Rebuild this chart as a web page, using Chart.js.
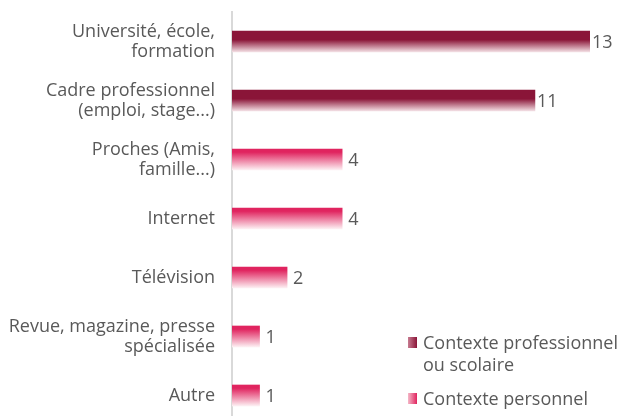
<!DOCTYPE html>
<html>
<head>
<meta charset="utf-8">
<script src="https://cdn.jsdelivr.net/npm/chart.js@4"></script>
<style>
  html, body { margin: 0; padding: 0; background: #fff; overflow: hidden; width: 627px; height: 416px; }
  #wrap { position: relative; width: 627px; height: 416px; overflow: hidden; }
  canvas { position: absolute; left: 0; top: 0; }
  .lg { position: absolute; font-family: "Open Sans", sans-serif; font-size: 18px; color: #595959; line-height: 22px; white-space: nowrap; }
  .mk { position: absolute; width: 9px; height: 11px; }
</style>
</head>
<body>
<div id="wrap">
  <canvas id="c" width="627" height="430"></canvas>
  <div class="mk" id="mk0" style="left:408px; top:337px;"></div>
  <div class="lg" id="lg0" style="left:423px; top:331px;"></div>
  <div class="mk" id="mk1" style="left:408px; top:393px;"></div>
  <div class="lg" id="lg1" style="left:423px; top:387px;"></div>
</div>
<script>
const categories = [
  ["Université, école,", "formation"],
  ["Cadre professionnel", "(emploi, stage...)"],
  ["Proches (Amis,", "famille...)"],
  "Internet",
  "Télévision",
  ["Revue, magazine, presse", "spécialisée"],
  "Autre"
];
const professionnel = [13, 11, null, null, null, null, null];
const personnel = [null, null, 4, 4, 2, 1, 1];
const seriesNames = [["Contexte professionnel", "ou scolaire"], ["Contexte personnel"]];

const TXT = "#595959";
const FONT = "'Open Sans', sans-serif";
const BAR_H = 21;
const palettes = [
  { top: "#8a1538", mid: 0.42, bottom: "#f3dfe4" },
  { top: "#e0245f", mid: 0.15, bottom: "#fdf0f3" }
];

function grad(p) {
  return function (c) {
    const chart = c.chart;
    const ys = chart.scales && chart.scales.y;
    if (!chart.chartArea || !ys || c.dataIndex === undefined) return p.top;
    const yc = ys.getPixelForValue(c.dataIndex);
    const g = chart.ctx.createLinearGradient(0, yc - BAR_H / 2, 0, yc + BAR_H / 2);
    g.addColorStop(0, p.top);
    g.addColorStop(p.mid, p.top);
    g.addColorStop(1, p.bottom);
    return g;
  };
}

const valueLabels = {
  id: "valueLabels",
  afterDatasetsDraw(chart) {
    const ctx = chart.ctx;
    ctx.save();
    ctx.fillStyle = TXT;
    ctx.font = "18px " + FONT;
    ctx.textBaseline = "middle";
    ctx.textAlign = "left";
    chart.data.datasets.forEach((ds, di) => {
      const meta = chart.getDatasetMeta(di);
      meta.data.forEach((el, i) => {
        const v = ds.data[i];
        if (v === null || v === undefined) return;
        ctx.fillText(String(v), el.x + (di === 0 ? 2 : 6), el.y + 1);
      });
    });
    ctx.restore();
  }
};

new Chart(document.getElementById("c"), {
  type: "bar",
  data: {
    labels: categories,
    datasets: [
      { label: seriesNames[0].join(" "), data: professionnel, backgroundColor: grad(palettes[0]), barThickness: BAR_H, borderWidth: 0 },
      { label: seriesNames[1].join(" "), data: personnel, backgroundColor: grad(palettes[1]), barThickness: BAR_H, borderWidth: 0 }
    ]
  },
  options: {
    indexAxis: "y",
    responsive: false,
    animation: false,
    layout: { padding: { top: 12, right: 37, bottom: 5, left: 0 } },
    plugins: { legend: { display: false }, tooltip: { enabled: false } },
    scales: {
      x: { min: 0, max: 13, display: false, stacked: true },
      y: {
        stacked: true,
        grid: { display: false, drawTicks: false },
        border: { display: true, color: "#d9d9d9", width: 2 },
        ticks: { color: TXT, font: { family: FONT, size: 18, lineHeight: 1.1 }, padding: 17 },
        afterFit: (s) => { s.width = 232; s.paddingTop = 0; s.paddingBottom = 0; }
      }
    }
  },
  plugins: [valueLabels]
});

const mkBg = [
  "linear-gradient(to right, #c77b90, #8a1538)",
  "linear-gradient(to right, #f5b8c8, #e0245f)"
];
seriesNames.forEach((lines, i) => {
  document.getElementById("lg" + i).innerHTML = lines.join("<br>");
  document.getElementById("mk" + i).style.background = mkBg[i];
});
</script>
</body>
</html>
